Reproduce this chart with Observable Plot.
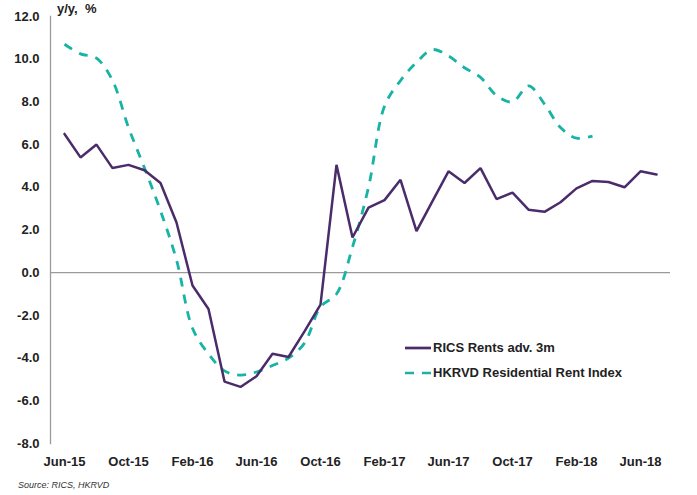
<!DOCTYPE html>
<html>
<head>
<meta charset="utf-8">
<script src="https://cdn.jsdelivr.net/npm/d3@7"></script>
<script src="https://cdn.jsdelivr.net/npm/@observablehq/plot@0.6"></script>
<style>
  body { margin: 0; background: #fff; }
  #wrap { position: relative; width: 697px; height: 495px; font-family: "Liberation Sans", Arial, sans-serif; }
  #title { position: absolute; left: 57px; top: 1px; font-size: 13px; font-weight: bold; color: #222; }
  #source { position: absolute; left: 18px; top: 480px; font-size: 9px; font-style: italic; color: #333; }
  #legend { position: absolute; left: 405px; top: 335px; font-size: 13px; font-weight: bold; color: #222; }
  #legend .row { display: flex; align-items: center; height: 25px; }
  #legend svg { margin-right: 2px; }
</style>
</head>
<body>
<div id="wrap">
  <div id="chart"></div>
  <div id="title">y/y,&nbsp; %</div>
  <div id="legend"></div>
  <div id="source">Source: RICS, HKRVD</div>
</div>
<script>
const months = ["Jun-15","Jul-15","Aug-15","Sep-15","Oct-15","Nov-15","Dec-15",
  "Jan-16","Feb-16","Mar-16","Apr-16","May-16","Jun-16","Jul-16","Aug-16","Sep-16","Oct-16","Nov-16","Dec-16",
  "Jan-17","Feb-17","Mar-17","Apr-17","May-17","Jun-17","Jul-17","Aug-17","Sep-17","Oct-17","Nov-17","Dec-17",
  "Jan-18","Feb-18","Mar-18","Apr-18","May-18","Jun-18","Jul-18"];
const tickLabels = ["Jun-15","Oct-15","Feb-16","Jun-16","Oct-16","Feb-17","Jun-17","Oct-17","Feb-18","Jun-18"];
const yTicks = [-8, -6, -4, -2, 0, 2, 4, 6, 8, 10, 12];
const seriesNames = ["RICS Rents adv. 3m", "HKRVD Residential Rent Index"];
const ricsValues = [6.5,5.4,6.0,4.9,5.05,4.8,4.2,2.35,-0.6,-1.7,-5.1,-5.35,-4.85,-3.8,-3.95,-2.75,-1.5,5.05,1.65,
  3.05,3.4,4.35,1.95,3.35,4.75,4.2,4.9,3.45,3.75,2.95,2.85,3.3,3.95,4.3,4.25,4.0,4.75,4.6];
const hkrvdValues = [10.7,10.25,10.05,9.0,6.8,4.9,2.9,0.6,-2.6,-3.8,-4.6,-4.8,-4.65,-4.35,-4.0,-3.3,-1.6,-1.0,1.2,
  4.0,7.8,9.0,9.85,10.45,10.15,9.6,9.15,8.3,8.0,8.75,7.9,6.8,6.3,6.4];

const purple = "#4a2c6a";
const teal = "#17b3a5";

const rics = ricsValues.map((v, i) => ({month: months[i], value: v}));
const hkrvd = hkrvdValues.map((v, i) => ({month: months[i], value: v}));

const chart = Plot.plot({
  width: 697,
  height: 495,
  marginLeft: 50,
  marginRight: 27,
  marginTop: 16,
  marginBottom: 52,
  style: {fontFamily: "'Liberation Sans', Arial, sans-serif", background: "#fff"},
  x: {type: "point", domain: months, padding: 0.5},
  y: {domain: [-8, 12]},
  marks: [
    Plot.frame({anchor: "left", stroke: "#9a9a9a", strokeWidth: 1.3}),
    Plot.ruleY([0], {stroke: "#9a9a9a", strokeWidth: 1.3}),
    Plot.axisY({ticks: yTicks, tickFormat: d => d.toFixed(1), tickSize: 0, tickPadding: 11,
      fontSize: 13, fontWeight: "bold", fill: "#222", label: null}),
    Plot.axisX({ticks: tickLabels, tickSize: 0, tickPadding: 13, fontSize: 13, fontWeight: "bold", fill: "#222", label: null}),
    Plot.line(hkrvd, {x: "month", y: "value", stroke: teal, strokeWidth: 2.8, strokeDasharray: "9,8",
      curve: "catmull-rom", strokeLinecap: "butt"}),
    Plot.line(rics, {x: "month", y: "value", stroke: purple, strokeWidth: 2.5, strokeLinejoin: "miter"})
  ]
});
document.getElementById("chart").appendChild(chart);

const legend = document.getElementById("legend");
[[seriesNames[0], purple, null], [seriesNames[1], teal, "9,8"]].forEach(([name, color, dash]) => {
  const row = document.createElement("div");
  row.className = "row";
  row.innerHTML = `<svg width="26" height="6"><line x1="0" y1="3" x2="26" y2="3" stroke="${color}" stroke-width="2.7" ${dash ? `stroke-dasharray="${dash}"` : ""}/></svg><span>${name}</span>`;
  legend.appendChild(row);
});
</script>
</body>
</html>
